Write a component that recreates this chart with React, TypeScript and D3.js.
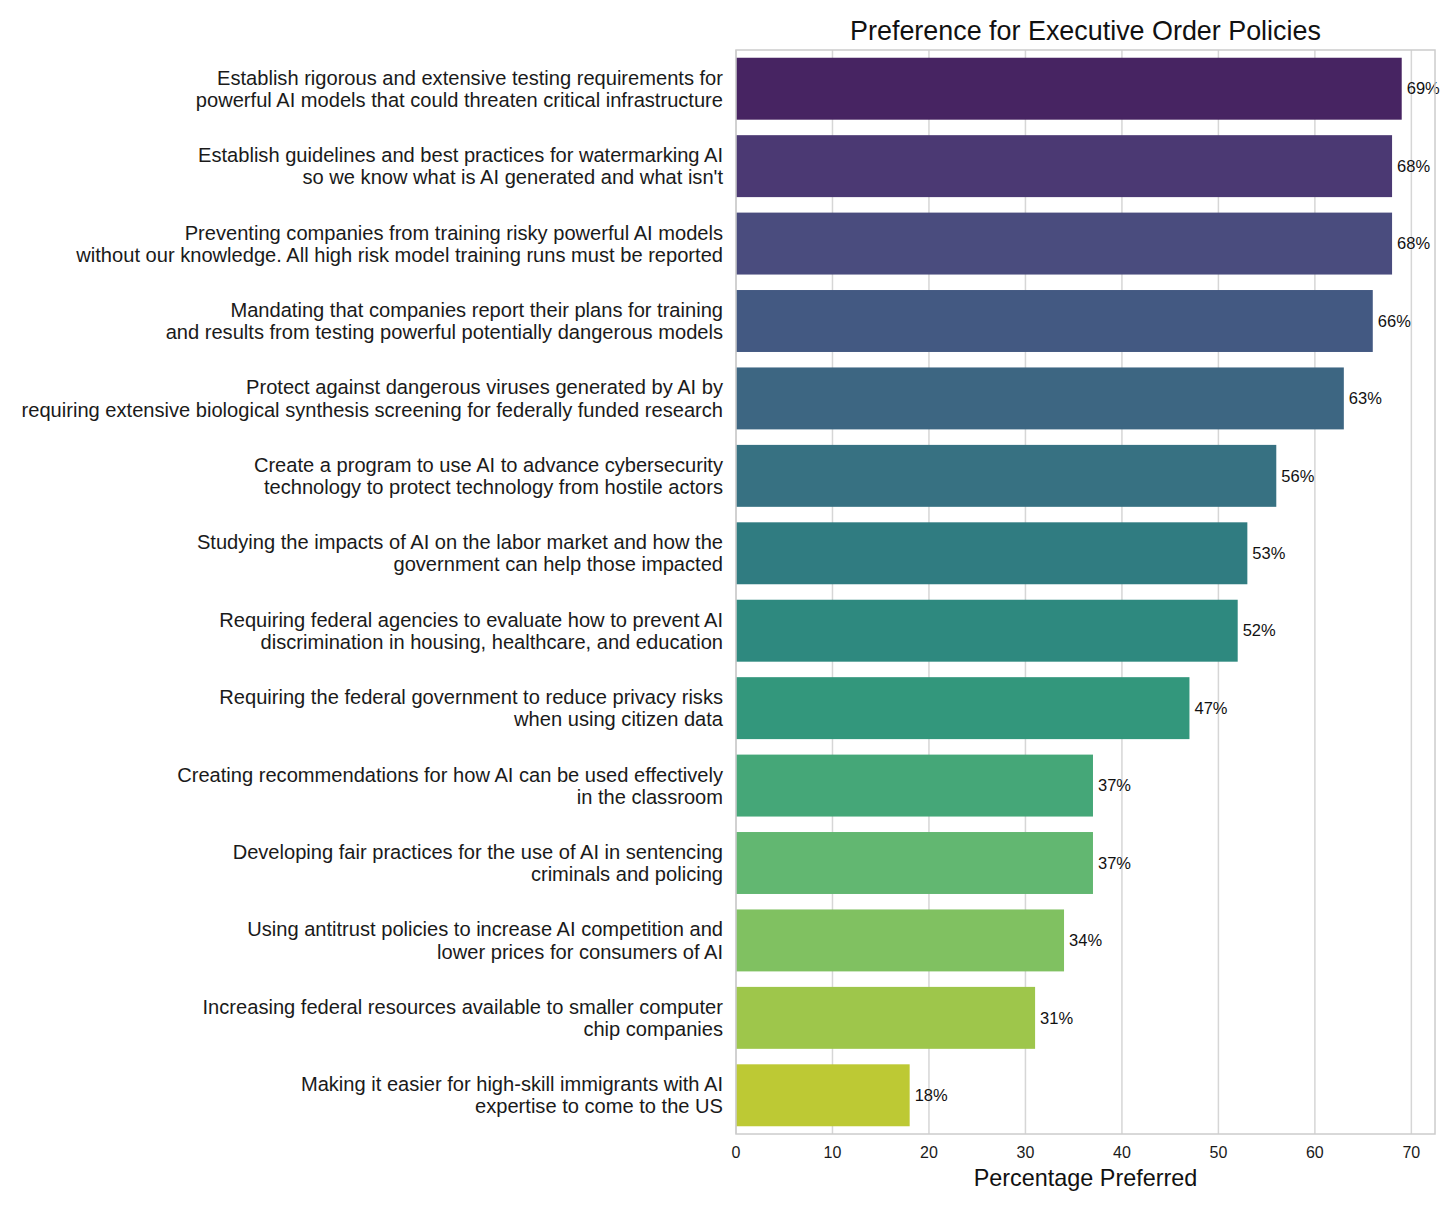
import * as d3 from "d3";

const policies: string[][] = [
  ["Establish rigorous and extensive testing requirements for", "powerful AI models that could threaten critical infrastructure"],
  ["Establish guidelines and best practices for watermarking AI", "so we know what is AI generated and what isn't"],
  ["Preventing companies from training risky powerful AI models", "without our knowledge. All high risk model training runs must be reported"],
  ["Mandating that companies report their plans for training", "and results from testing powerful potentially dangerous models"],
  ["Protect against dangerous viruses generated by AI by", "requiring extensive biological synthesis screening for federally funded research"],
  ["Create a program to use AI to advance cybersecurity", "technology to protect technology from hostile actors"],
  ["Studying the impacts of AI on the labor market and how the", "government can help those impacted"],
  ["Requiring federal agencies to evaluate how to prevent AI", "discrimination in housing, healthcare, and education"],
  ["Requiring the federal government to reduce privacy risks", "when using citizen data"],
  ["Creating recommendations for how AI can be used effectively", "in the classroom"],
  ["Developing fair practices for the use of AI in sentencing", "criminals and policing"],
  ["Using antitrust policies to increase AI competition and", "lower prices for consumers of AI"],
  ["Increasing federal resources available to smaller computer", "chip companies"],
  ["Making it easier for high-skill immigrants with AI", "expertise to come to the US"],
];
const preferred = [69, 68, 68, 66, 63, 56, 53, 52, 47, 37, 37, 34, 31, 18];
const xTicks = [0, 10, 20, 30, 40, 50, 60, 70];

const W = 1456;
const H = 1214;
const left = 736;
const right = 1435;
const top = 50;
const bottom = 1134;
const font = "'Liberation Sans', Arial, sans-serif";

export default function App() {
  const idx = preferred.map((_, i) => i);
  const x = d3.scaleLinear().domain([0, d3.max(preferred)! * 1.05]).range([left, right]);
  const y = d3.scaleBand<number>().domain(idx).range([top, bottom]).paddingInner(0.2).paddingOuter(0.1);
  const n = preferred.length;
  const color = (i: number) => {
    const c = d3.hsl(d3.interpolateViridis((i + 1) / (n + 1)));
    c.s *= 0.75;
    return c.formatHex();
  };

  return (
    <svg width={W} height={H} style={{ position: "absolute", left: 0, top: 0, background: "#fff" }} fontFamily={font}>
      {/* grid */}
      {xTicks.map((t) => (
        <line key={t} x1={x(t)} x2={x(t)} y1={top} y2={bottom} stroke="#d6d6d6" strokeWidth={1.5} />
      ))}
      {/* bars */}
      {preferred.map((v, i) => (
        <rect key={i} x={x(0)} y={y(i)!} width={x(v) - x(0)} height={y.bandwidth()} fill={color(i)} />
      ))}
      {/* value labels */}
      {preferred.map((v, i) => (
        <text key={i} x={x(v) + 5} y={y(i)! + y.bandwidth() / 2} dy="0.35em" fontSize={16.5} fill="#111">
          {v}%
        </text>
      ))}
      {/* frame */}
      <rect x={left} y={top} width={right - left} height={bottom - top} fill="none" stroke="#cccccc" strokeWidth={1.5} />
      {/* y labels */}
      {policies.map((lines, i) => (
        <text key={i} x={left - 13} y={y(i)! + y.bandwidth() / 2} textAnchor="end" fontSize={20.1} fill="#1a1a1a">
          {lines.map((l, j) => (
            <tspan key={j} x={left - 13} dy={j === 0 ? "-0.2em" : "1.1em"}>{l}</tspan>
          ))}
        </text>
      ))}
      {/* x ticks */}
      {xTicks.map((t) => (
        <text key={t} x={x(t)} y={bottom + 24} textAnchor="middle" fontSize={16} fill="#1a1a1a">
          {t}
        </text>
      ))}
      <text x={(left + right) / 2} y={bottom + 52} textAnchor="middle" fontSize={23.4} fill="#111">
        Percentage Preferred
      </text>
      <text x={(left + right) / 2} y={top - 10} textAnchor="middle" fontSize={26.9} fill="#111">
        Preference for Executive Order Policies
      </text>
    </svg>
  );
}
